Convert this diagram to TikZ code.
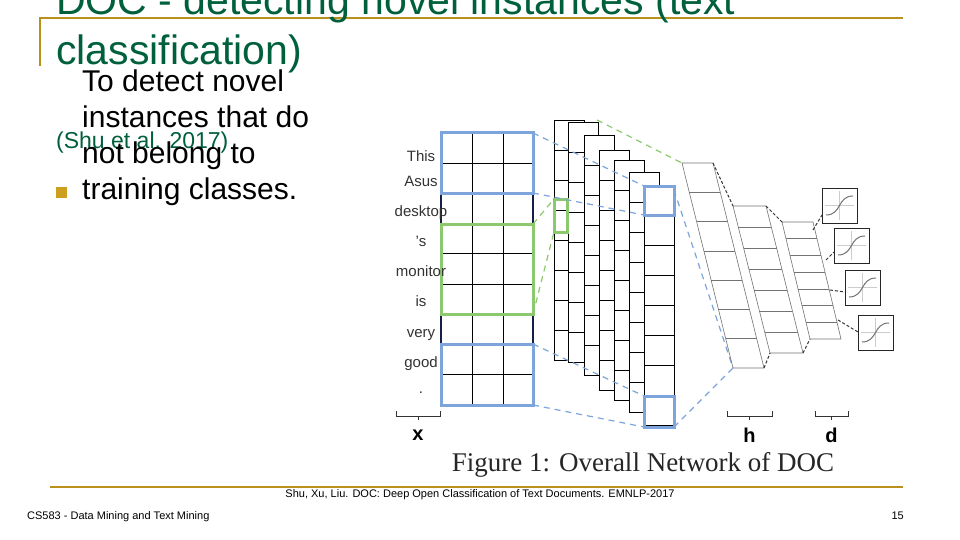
\documentclass[tikz,border=0pt]{standalone}
\usepackage{fontspec}
\usetikzlibrary{calc}
\setmainfont{Liberation Sans}
\newfontfamily\serifont{Liberation Serif}
\begin{document}
\begin{tikzpicture}[x=1pt,y=-1pt,
  goldline/.style={draw=gold!90!black,line width=2.5pt},
  bl/.style={draw=myblue,line width=3pt},
  gr/.style={draw=mygreen,line width=3pt},
  bld/.style={draw=myblue,dashed,dash pattern=on 6pt off 5pt,line width=1.2pt},
  grd/.style={draw=mygreen,dashed,dash pattern=on 6pt off 5pt,line width=1.2pt},
  kd/.style={draw=black!80,densely dashed,line width=1pt},
  gl/.style={draw=black!55,line width=0.6pt},
  word/.style={font=\fontsize{15}{15}\selectfont,text=black!80,anchor=base}]
\definecolor{gold}{RGB}{204,160,30}
\definecolor{titlegreen}{RGB}{0,96,60}
\definecolor{myblue}{RGB}{125,165,220}
\definecolor{mygreen}{RGB}{140,200,110}
\definecolor{navy}{RGB}{20,30,70}
\useasboundingbox (0,0) rectangle (960,540);
\fill[white] (0,0) rectangle (960,540);
% slide decoration
\draw[goldline] (40,66) -- (40,18) -- (903,18);
\draw[goldline] (50,487) -- (903,487);
\node[anchor=base west,text=titlegreen,font=\fontsize{41}{50}\selectfont,align=left,inner sep=0] (title) at (56,65) {DOC - detecting novel instances (text\\classification)};
\node[anchor=base west,text=titlegreen,font=\fontsize{23}{23}\selectfont,inner sep=0] (cite) at (56,149) {(Shu et al. 2017)};
\fill[gold] (56,187) rectangle (67,198);
\node[anchor=base west,font=\fontsize{30}{36.3}\selectfont,align=left,inner sep=0] (bullet) at (82,200) {To detect novel\\instances that do\\not belong to\\training classes.};
\node[font=\fontsize{11}{11}\selectfont,inner sep=0] (ref) at (480,495) {Shu, Xu, Liu. DOC: Deep Open Classification of Text Documents. EMNLP-2017};
\node[anchor=west,font=\fontsize{11}{11}\selectfont,inner sep=0] (course) at (27,517) {CS583 - Data Mining and Text Mining};
\node[anchor=east,font=\fontsize{11}{11}\selectfont,inner sep=0] (page) at (904,516) {15};
% feature strips (back to front)
\foreach \L/\T in {554/120,568/122,584/135,599/150,614/160,629/172,644/185}{
  \fill[white] (\L,\T) rectangle ++(30,240);
  \draw[black,line width=0.9pt] (\L,\T) rectangle ++(30,240);
  \foreach \k in {1,...,7} \draw[black,line width=0.9pt] (\L,\T+30*\k) -- ++(30,0);
}
% input matrix
\foreach \i in {0,...,9} \draw[black,line width=0.9pt] (441,133+30.2*\i) -- (533,133+30.2*\i);
\foreach \xx in {441,472,503,533} \draw[black,line width=0.9pt] (\xx,133) -- (\xx,405);
\draw[navy,line width=1.5pt] (441,133) rectangle (533,405);
\draw[bl] (441,133) rectangle (533,193);
\draw[gr] (441,224) rectangle (533,314);
\draw[bl] (441,344) rectangle (533,405);
\foreach \w/\yy [count=\i] in {This/162,Asus/186,desktop/216,'s/246,monitor/276,is/306,very/337,good/367,./393}
  \node[word] (w\i) at (421,\yy) {\w};
% small boxes on strips
\draw[gr] (554,199) rectangle (567,232);
\draw[bl] (644,186) rectangle (674,215);
\draw[bl] (644,396) rectangle (674,427);
% dashed projections
\draw[bld] (533,133) -- (644,186);
\draw[bld] (533,193) -- (644,215);
\draw[bld] (533,344) -- (644,396);
\draw[bld] (533,405) -- (644,427);
\draw[grd] (533,224) -- (554,199);
\draw[grd] (533,314) -- (554,232);
\draw[grd] (597,120) -- (682,163);
\draw[bld] (674,190) -- (733,368);
\draw[bld] (674,427) -- (733,368);
% h layers (slanted)
\foreach \ax/\ay/\bx/\by/\w in {682/163/733/368/31, 733/206/770/353/33, 782/222/810/339/31}{
  \draw[gl] (\ax,\ay) -- (\ax+\w,\ay) -- (\bx+\w,\by) -- (\bx,\by) -- cycle;
  \foreach \k in {1,...,6} \draw[gl] ($(\ax,\ay)!\k/7!(\bx,\by)$) -- ++(\w,0);
}
\draw[kd] (713,163) -- (733,206);
\draw[kd] (764,368) -- (770,353);
\draw[kd] (766,206) -- (782,222);
\draw[kd] (803,353) -- (810,339);
% d boxes
\foreach \x/\y [count=\i] in {822/188,834/228,845/270,858/315}{
  \draw[black!85,line width=1pt] (\x,\y) rectangle ++(35,35);
  \draw[black!20] (\x+17.5,\y+3) -- ++(0,29) (\x+3,\y+17.5) -- ++(29,0);
  \draw[black!55,line width=1pt] (\x+4,\y+27) .. controls (\x+20,\y+27) and (\x+15,\y+8) .. (\x+31,\y+8);
}
\draw[kd] (813,230) -- (822,215);
\draw[kd] (826,260) -- (834,252);
\draw[kd] (830,290) -- (845,292);
\draw[kd] (838,320) -- (858,332);
% brackets
\foreach \a/\b/\t in {396/440/x,727/772/h,815/848/d}{
  \draw[black!80,line width=1pt] (\a,411) -- (\a,416) -- (\b,416) -- (\b,411);
  \draw[black!80,line width=1pt] ({(\a+\b)/2},416) -- ++(0,4);
  \node[font=\bfseries\fontsize{20}{20}\selectfont,inner sep=0] (lbl\t) at ({(\a+\b)/2},435) {\t};
}
\node[font=\serifont\fontsize{27}{27}\selectfont,text=black!85,inner sep=0] (cap) at (643,465) {Figure 1: Overall Network of DOC};
\end{tikzpicture}
\end{document}
